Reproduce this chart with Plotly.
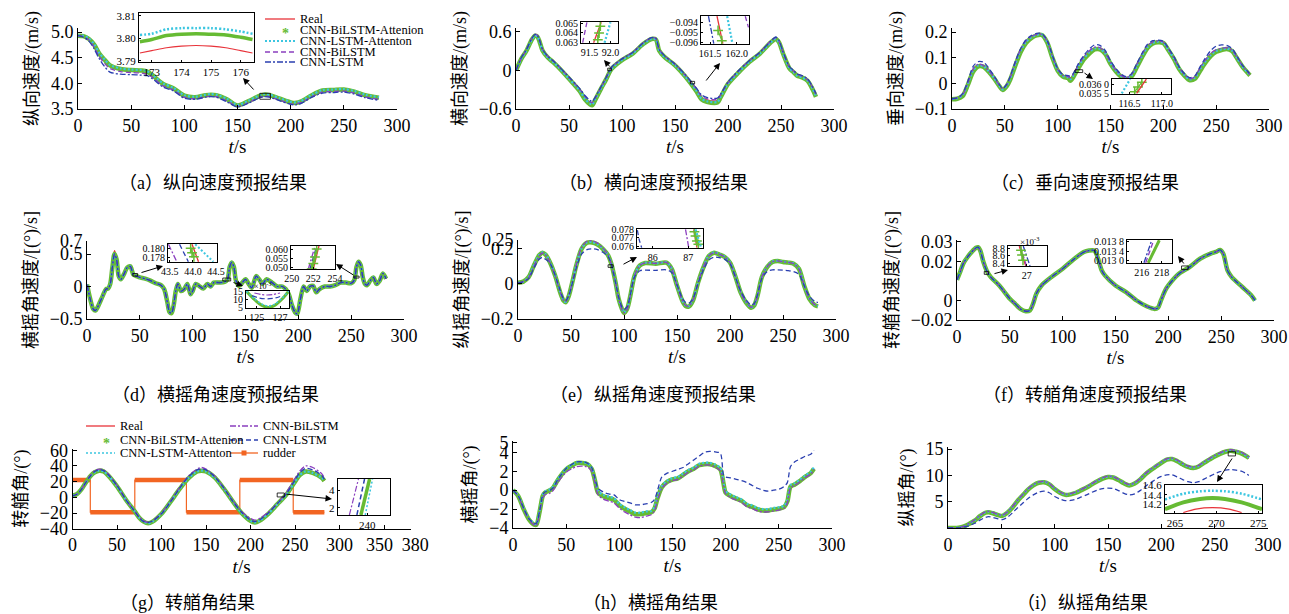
import plotly.graph_objects as go

# ======================= DATA =======================
# (a) longitudinal speed
t_a = [0,5,10,15,20,25,30,40,50,60,65,70,80,90,100,110,120,125,130,140,150,160,170,175,180,190,200,205,210,220,230,240,250,260,270,283]
real_a = [4.93,4.92,4.87,4.75,4.57,4.45,4.34,4.27,4.25,4.24,4.22,4.15,3.98,3.89,3.75,3.72,3.76,3.77,3.76,3.68,3.56,3.64,3.74,3.77,3.76,3.69,3.62,3.61,3.64,3.76,3.85,3.86,3.87,3.83,3.76,3.71]
bilstm_att_a = [4.93,4.92,4.87,4.76,4.58,4.46,4.35,4.28,4.26,4.25,4.23,4.16,3.99,3.90,3.76,3.73,3.77,3.78,3.77,3.69,3.57,3.65,3.75,3.78,3.77,3.70,3.63,3.62,3.65,3.77,3.86,3.87,3.88,3.84,3.77,3.72]
lstm_att_a = [4.93,4.93,4.88,4.77,4.59,4.47,4.36,4.29,4.27,4.26,4.24,4.17,4.00,3.91,3.77,3.74,3.78,3.79,3.78,3.70,3.58,3.66,3.76,3.79,3.78,3.71,3.64,3.63,3.66,3.78,3.87,3.88,3.89,3.85,3.78,3.73]
bilstm_a = [4.93,4.91,4.85,4.71,4.52,4.39,4.29,4.23,4.21,4.20,4.18,4.12,3.95,3.87,3.73,3.70,3.74,3.75,3.74,3.66,3.55,3.62,3.72,3.75,3.74,3.67,3.60,3.60,3.63,3.74,3.83,3.84,3.85,3.81,3.74,3.69]
lstm_a = [4.93,4.90,4.83,4.68,4.48,4.33,4.22,4.18,4.17,4.16,4.15,4.09,3.93,3.85,3.71,3.69,3.73,3.74,3.73,3.64,3.54,3.61,3.71,3.74,3.73,3.66,3.59,3.58,3.61,3.73,3.81,3.82,3.83,3.79,3.72,3.67]

# (b) lateral speed
t_b = [0,5,10,15,18,20,22,25,30,35,40,50,60,65,70,72,75,80,85,90,100,110,120,128,132,135,140,150,160,170,175,180,190,193,200,210,220,230,240,245,248,252,258,262,265,270,275,280,283]
real_b = [0,0.19,0.32,0.49,0.55,0.54,0.47,0.32,0.21,0.14,0.06,-0.12,-0.30,-0.42,-0.51,-0.52,-0.43,-0.28,-0.13,0.03,0.17,0.27,0.42,0.50,0.49,0.32,0.22,0.09,-0.09,-0.30,-0.42,-0.46,-0.47,-0.40,-0.20,-0.02,0.14,0.27,0.44,0.50,0.45,0.27,0.04,-0.02,-0.07,-0.10,-0.15,-0.28,-0.38]
bilstm_att_b = [0,0.18,0.31,0.48,0.54,0.53,0.46,0.31,0.2,0.13,0.05,-0.13,-0.32,-0.45,-0.53,-0.54,-0.45,-0.29,-0.14,0.02,0.16,0.26,0.41,0.49,0.48,0.31,0.21,0.08,-0.1,-0.32,-0.45,-0.49,-0.5,-0.42,-0.21,-0.03,0.13,0.26,0.43,0.49,0.44,0.26,0.03,-0.03,-0.08,-0.11,-0.16,-0.3,-0.41]
lstm_att_b = [0,0.18,0.31,0.48,0.54,0.53,0.46,0.31,0.2,0.13,0.05,-0.13,-0.31,-0.44,-0.52,-0.53,-0.44,-0.29,-0.14,0.02,0.16,0.26,0.41,0.49,0.48,0.31,0.21,0.08,-0.1,-0.31,-0.44,-0.48,-0.49,-0.41,-0.21,-0.03,0.13,0.26,0.43,0.49,0.44,0.26,0.03,-0.03,-0.08,-0.11,-0.16,-0.29,-0.4]
bilstm_b = [0,0.19,0.33,0.5,0.56,0.55,0.48,0.33,0.22,0.15,0.07,-0.11,-0.29,-0.4,-0.49,-0.5,-0.42,-0.27,-0.12,0.04,0.18,0.28,0.43,0.51,0.5,0.33,0.23,0.1,-0.08,-0.28,-0.4,-0.44,-0.45,-0.38,-0.19,-0.01,0.15,0.28,0.45,0.51,0.46,0.28,0.05,-0.01,-0.06,-0.09,-0.14,-0.27,-0.37]
lstm_b = [0,0.2,0.33,0.5,0.56,0.55,0.48,0.33,0.22,0.15,0.07,-0.1,-0.28,-0.39,-0.47,-0.48,-0.41,-0.26,-0.11,0.05,0.18,0.28,0.43,0.51,0.5,0.33,0.23,0.1,-0.07,-0.27,-0.38,-0.42,-0.43,-0.37,-0.18,0.0,0.15,0.28,0.45,0.52,0.47,0.29,0.06,0.0,-0.05,-0.08,-0.13,-0.26,-0.36]

# (c) vertical speed
t_c = [0,5,10,15,20,25,30,35,40,45,48,52,55,60,65,70,75,80,85,90,95,100,105,110,112,115,120,125,130,135,140,145,150,155,160,165,170,175,180,185,190,195,200,205,210,215,220,225,230,235,240,245,250,255,260,265,270,275,280,282]
real_c = [-0.061,-0.058,-0.045,0.0,0.053,0.072,0.066,0.046,0.02,-0.01,-0.023,-0.006,0.02,0.079,0.13,0.163,0.18,0.19,0.19,0.163,0.105,0.053,0.029,0.024,0.018,0.033,0.072,0.102,0.124,0.138,0.136,0.118,0.079,0.05,0.029,0.02,0.033,0.072,0.111,0.144,0.159,0.163,0.159,0.13,0.098,0.059,0.033,0.016,0.024,0.059,0.089,0.114,0.128,0.133,0.137,0.128,0.098,0.066,0.042,0.033]
bilstm_att_c = [-0.062,-0.06,-0.05,-0.006,0.045,0.066,0.064,0.044,0.018,-0.012,-0.026,-0.01,0.014,0.07,0.122,0.157,0.176,0.187,0.188,0.16,0.1,0.05,0.026,0.02,0.01,0.026,0.062,0.094,0.116,0.132,0.132,0.115,0.076,0.047,0.026,0.016,0.027,0.064,0.103,0.137,0.155,0.16,0.157,0.128,0.095,0.056,0.03,0.012,0.018,0.05,0.081,0.107,0.123,0.13,0.134,0.126,0.096,0.064,0.04,0.031]
lstm_att_c = [-0.061,-0.058,-0.046,-0.002,0.05,0.07,0.066,0.046,0.02,-0.01,-0.024,-0.007,0.018,0.076,0.128,0.161,0.179,0.189,0.19,0.162,0.104,0.052,0.028,0.023,0.016,0.031,0.069,0.099,0.121,0.136,0.135,0.117,0.078,0.049,0.028,0.019,0.031,0.069,0.108,0.141,0.157,0.162,0.158,0.129,0.097,0.058,0.032,0.015,0.022,0.056,0.086,0.111,0.126,0.132,0.136,0.127,0.097,0.065,0.041,0.032]
bilstm_c = [-0.06,-0.057,-0.044,0.002,0.056,0.075,0.069,0.048,0.022,-0.008,-0.021,-0.004,0.022,0.082,0.133,0.166,0.182,0.191,0.191,0.165,0.107,0.055,0.031,0.026,0.021,0.036,0.075,0.105,0.127,0.141,0.139,0.12,0.081,0.052,0.031,0.022,0.035,0.075,0.114,0.147,0.161,0.165,0.161,0.132,0.1,0.061,0.035,0.018,0.026,0.062,0.092,0.117,0.131,0.136,0.139,0.13,0.1,0.068,0.044,0.034]
lstm_c = [-0.06,-0.056,-0.04,0.008,0.066,0.085,0.082,0.058,0.028,-0.006,-0.02,-0.002,0.026,0.086,0.136,0.17,0.186,0.195,0.194,0.168,0.11,0.058,0.034,0.03,0.028,0.04,0.08,0.11,0.134,0.15,0.148,0.128,0.088,0.058,0.036,0.026,0.038,0.078,0.118,0.152,0.166,0.168,0.164,0.136,0.104,0.064,0.038,0.022,0.03,0.066,0.1,0.128,0.145,0.15,0.148,0.136,0.104,0.07,0.046,0.035]

# (d) roll rate
t_d = [0,3,6,8,10,15,18,20,22,24,26,28,30,32,35,38,41,44,47,50,55,60,65,70,73,76,78,80,82,84,86,89,92,95,98,100,103,106,110,114,117,120,125,130,133,135,137,139,141,144,147,150,153,156,160,163,166,170,175,180,185,188,191,194,197,199,202,205,208,211,214,217,220,225,230,235,240,245,250,253,255,257,259,261,263,265,268,271,274,277,280,283]
real_d = [0.03,-0.19,-0.35,-0.37,-0.32,-0.14,-0.04,-0.03,0.04,0.31,0.55,0.44,0.16,0.11,0.19,0.29,0.31,0.18,0.16,0.14,0.12,0.09,0.05,0.02,-0.04,-0.24,-0.40,-0.42,-0.29,-0.07,0.04,-0.07,-0.04,0.04,-0.12,-0.07,0.04,0.01,-0.03,0.04,0.0,0.06,0.06,0.07,0.11,0.31,0.38,0.31,0.09,0.01,0.06,0.11,0.04,-0.02,0.16,0.11,0.04,0.11,0.06,0.0,0.0,-0.04,-0.12,-0.29,-0.40,-0.42,-0.19,0.0,-0.07,0.0,0.01,-0.09,-0.04,0.0,0.0,0.02,0.06,0.06,0.05,0.10,0.31,0.39,0.34,0.14,0.04,0.02,0.09,0.14,0.04,0.09,0.21,0.12]
model_d = [0.03,-0.19,-0.35,-0.37,-0.32,-0.14,-0.04,-0.03,0.04,0.29,0.5,0.42,0.16,0.11,0.19,0.29,0.31,0.18,0.16,0.14,0.12,0.09,0.05,0.02,-0.04,-0.24,-0.39,-0.41,-0.29,-0.07,0.04,-0.07,-0.04,0.04,-0.12,-0.07,0.04,0.01,-0.03,0.04,0.0,0.06,0.06,0.07,0.11,0.3,0.37,0.3,0.09,0.01,0.06,0.11,0.04,-0.02,0.16,0.11,0.04,0.11,0.06,0.0,0.0,-0.04,-0.12,-0.29,-0.4,-0.42,-0.19,0.0,-0.07,0.0,0.01,-0.09,-0.04,0.0,0.0,0.02,0.06,0.06,0.05,0.1,0.3,0.38,0.33,0.14,0.04,0.02,0.09,0.14,0.04,0.09,0.2,0.12]

# (e) pitch rate
t_e = [0,5,10,15,20,23,26,30,35,40,43,45,48,52,55,60,65,70,75,80,85,88,92,95,98,100,103,106,110,115,120,130,140,145,150,155,158,161,165,170,175,180,185,190,195,200,205,210,215,220,223,226,230,235,240,245,250,255,260,265,270,275,280,283]
real_e = [0.006,0.013,0.038,0.105,0.163,0.178,0.167,0.125,0.048,-0.052,-0.096,-0.105,-0.067,0.029,0.105,0.2,0.234,0.236,0.224,0.2,0.163,0.115,0.01,-0.086,-0.15,-0.175,-0.15,-0.067,0.048,0.105,0.119,0.115,0.121,0.086,-0.01,-0.096,-0.125,-0.13,-0.096,0.01,0.096,0.159,0.178,0.167,0.153,0.121,0.044,-0.048,-0.105,-0.138,-0.121,-0.067,0.038,0.096,0.125,0.13,0.125,0.121,0.115,0.086,-0.01,-0.086,-0.121,-0.128]
bilstm_att_e = [0.006,0.013,0.038,0.105,0.163,0.178,0.167,0.125,0.048,-0.052,-0.096,-0.105,-0.067,0.029,0.105,0.2,0.234,0.236,0.224,0.2,0.163,0.115,0.01,-0.086,-0.142,-0.165,-0.142,-0.067,0.048,0.105,0.119,0.115,0.121,0.086,-0.01,-0.096,-0.125,-0.13,-0.096,0.01,0.096,0.159,0.178,0.167,0.153,0.121,0.044,-0.048,-0.105,-0.136,-0.121,-0.067,0.038,0.096,0.125,0.13,0.125,0.121,0.115,0.086,-0.01,-0.086,-0.121,-0.128]
lstm_att_e = [0.006,0.013,0.04,0.107,0.165,0.18,0.169,0.127,0.05,-0.05,-0.094,-0.103,-0.065,0.031,0.107,0.202,0.236,0.238,0.226,0.202,0.165,0.117,0.012,-0.084,-0.14,-0.163,-0.14,-0.065,0.05,0.107,0.121,0.117,0.123,0.088,-0.008,-0.094,-0.123,-0.128,-0.094,0.012,0.098,0.161,0.18,0.169,0.155,0.123,0.046,-0.046,-0.103,-0.134,-0.119,-0.065,0.04,0.098,0.127,0.132,0.127,0.123,0.117,0.088,-0.008,-0.084,-0.119,-0.126]
bilstm_e = [0.006,0.013,0.036,0.1,0.16,0.176,0.166,0.124,0.046,-0.05,-0.094,-0.102,-0.066,0.03,0.108,0.208,0.243,0.245,0.232,0.205,0.165,0.113,0.008,-0.084,-0.145,-0.165,-0.145,-0.065,0.048,0.106,0.12,0.117,0.122,0.087,-0.01,-0.094,-0.122,-0.127,-0.094,0.01,0.097,0.16,0.178,0.168,0.154,0.121,0.043,-0.047,-0.102,-0.133,-0.118,-0.066,0.038,0.097,0.126,0.131,0.126,0.122,0.116,0.086,-0.01,-0.085,-0.118,-0.125]
lstm_e = [0.006,0.012,0.03,0.09,0.14,0.152,0.14,0.12,0.05,-0.04,-0.085,-0.095,-0.065,0.02,0.09,0.17,0.195,0.2,0.195,0.18,0.155,0.11,0.01,-0.075,-0.13,-0.145,-0.13,-0.06,0.04,0.075,0.078,0.077,0.08,0.065,-0.005,-0.08,-0.105,-0.11,-0.085,0.005,0.08,0.135,0.152,0.15,0.14,0.115,0.04,-0.04,-0.09,-0.12,-0.11,-0.06,0.03,0.07,0.08,0.08,0.078,0.075,0.07,0.055,-0.01,-0.07,-0.1,-0.105]

# (f) yaw rate
t_f = [0,3,6,10,14,18,20,22,25,28,32,40,50,55,60,65,69,72,75,80,90,100,110,120,125,130,133,137,140,150,160,170,180,187,190,193,197,200,210,220,230,240,245,249,252,256,260,270,278,282]
real_f = [0.0106,0.0146,0.019,0.0223,0.0249,0.0271,0.0274,0.0257,0.0197,0.0154,0.012,0.0077,0.0009,-0.0017,-0.0043,-0.0055,-0.0051,-0.0017,0.0034,0.0077,0.0123,0.0163,0.0209,0.0249,0.0257,0.0257,0.0223,0.0154,0.0129,0.0077,0.0043,0.0,-0.0031,-0.0043,-0.0038,0.0,0.0051,0.0077,0.0137,0.0171,0.0214,0.024,0.0249,0.026,0.024,0.0154,0.012,0.0069,0.0029,0.0]
model_f = [0.0106,0.0146,0.019,0.0223,0.0249,0.027,0.0273,0.0256,0.0197,0.0154,0.012,0.0077,0.0009,-0.0017,-0.0043,-0.0055,-0.0051,-0.0017,0.0034,0.0077,0.0123,0.0163,0.0209,0.0248,0.0256,0.0256,0.0223,0.0154,0.0129,0.0077,0.0043,0.0,-0.0031,-0.0043,-0.0038,0.0,0.0051,0.0077,0.0137,0.0171,0.0214,0.024,0.0249,0.0259,0.024,0.0154,0.012,0.0069,0.0029,0.0]

# (g) heading angle + rudder
t_g = [0,5,10,15,20,25,30,35,40,50,60,70,75,80,85,90,100,110,120,130,140,145,150,160,170,180,190,200,205,210,220,230,240,250,255,262,270,280,283]
real_g = [2,4,10,19,27,32,34,33,28,14,-3,-18,-26,-31,-33,-31,-21,-6,10,24,33,34,33,25,11,-5,-20,-30,-32,-30,-21,-9,3,20,28,33,31,25,21]
bilstm_g = [2,4,10,19,28,34,36,35,30,15,-3,-18,-25,-30,-32,-30,-20,-5,12,27,36,38,36,27,12,-4,-18,-27,-29,-27,-19,-8,6,24,33,40,38,30,25]
lstm_g = [2,4,10,19,27,33,35,34,29,15,-3,-18,-26,-31,-32,-30,-21,-6,11,26,35,36,35,26,12,-5,-19,-29,-31,-29,-20,-8,4,22,31,37,35,28,23]
rudder_t = [0,20,20,70,70,128,128,188,188,248,248,283]
rudder_v = [22,22,-19,-19,22,22,-19,-19,22,22,-19,-19]

# (h) roll angle
t_h = [0,5,10,15,20,22,25,28,30,35,38,42,50,55,60,65,70,74,77,80,85,90,95,100,105,110,115,120,125,130,133,136,140,145,150,155,160,165,170,175,180,185,190,195,198,200,205,210,215,220,225,230,235,240,245,250,255,258,261,265,270,275,280,283]
real_h = [0,-0.64,-2.0,-3.1,-3.66,-3.66,-2.3,-0.6,-0.26,0,0.3,1.06,2.2,2.57,2.87,2.87,2.75,2.26,1.06,-0.26,-0.64,-0.83,-1.02,-1.58,-1.96,-2.26,-2.53,-2.53,-2.41,-2.34,-1.96,-0.83,0.3,0.87,1.13,1.25,1.62,2.0,2.26,2.64,2.75,2.75,2.57,2.19,0.68,-0.26,-0.64,-0.9,-1.13,-1.58,-1.77,-2.04,-2.15,-2.15,-2.04,-1.96,-1.77,-1.2,0.38,0.6,0.98,1.43,1.81,2.26]
lstm_att_h = [0,-0.6,-1.9,-3.0,-3.55,-3.55,-2.2,-0.5,-0.15,0.1,0.4,1.15,2.3,2.65,2.95,2.95,2.85,2.35,1.15,-0.1,-0.5,-0.68,-0.87,-1.43,-1.8,-2.1,-2.37,-2.37,-2.25,-2.2,-1.8,-0.68,0.45,1.0,1.28,1.4,1.77,2.15,2.4,2.8,2.9,2.9,2.72,2.34,0.83,-0.1,-0.48,-0.75,-0.98,-1.43,-1.62,-1.88,-2.0,-2.0,-1.88,-1.8,-1.62,-1.05,0.53,0.75,1.13,1.58,1.96,2.4]
bilstm_h = [0,-0.64,-2.0,-3.1,-3.7,-3.75,-2.4,-0.8,-0.5,-0.3,0.0,0.8,1.9,2.25,2.5,2.55,2.45,2.0,0.8,-0.5,-0.95,-1.15,-1.35,-1.9,-2.3,-2.6,-2.85,-2.9,-2.75,-2.6,-2.2,-1.0,0.2,0.75,1.0,1.15,1.5,1.9,2.15,2.55,2.65,2.65,2.45,2.05,0.5,-0.4,-0.8,-1.05,-1.3,-1.75,-1.95,-2.2,-2.3,-2.3,-2.2,-2.1,-1.9,-1.35,0.25,0.5,0.9,1.35,1.7,2.2]
lstm_h = [0,-0.6,-1.9,-3.0,-3.5,-3.5,-2.2,-0.5,-0.2,0,0.3,1.1,2.3,2.7,3.0,3.0,2.85,2.4,1.3,0.2,-0.2,-0.4,-0.5,-1.0,-1.2,-1.35,-1.55,-1.55,-1.45,-1.3,-1.0,0.0,1.4,1.8,2.0,2.2,2.4,2.8,3.2,3.6,4.0,4.1,4.05,3.9,1.6,1.4,1.3,1.15,1.0,0.8,0.5,0.2,0.0,-0.1,0.0,0.1,0.4,0.8,2.5,3.0,3.3,3.6,3.8,4.2]

# (i) pitch angle
t_i = [0,5,10,15,20,25,30,35,38,42,47,51,55,60,65,70,75,80,85,90,95,100,105,110,115,120,125,130,135,140,145,150,155,160,165,170,175,180,185,190,195,200,205,210,215,220,225,230,235,240,245,250,255,260,265,270,275,280,282]
real_i = [0,0,0.05,0.25,0.7,1.3,2.15,2.8,2.9,2.7,2.35,2.2,2.7,3.7,5.0,6.1,7.2,8.0,8.5,8.6,8.2,7.3,6.6,6.2,6.3,6.6,7.1,7.6,8.2,8.8,9.3,9.6,9.5,9.0,8.4,8.0,8.35,9.1,10.1,10.9,11.6,12.3,12.9,13.0,12.6,12.0,11.5,11.3,11.6,12.3,12.9,13.5,14.0,14.4,14.6,14.4,14.1,13.5,13.2]
bilstm_att_i = [0,0,0.05,0.3,0.8,1.4,2.25,2.9,3.0,2.8,2.45,2.3,2.8,3.8,5.1,6.2,7.3,8.1,8.6,8.7,8.3,7.4,6.7,6.3,6.4,6.7,7.2,7.7,8.3,8.9,9.4,9.7,9.6,9.1,8.5,8.1,8.45,9.2,10.2,11.0,11.7,12.4,13.0,13.1,12.7,12.1,11.6,11.4,11.7,12.4,13.0,13.6,14.1,14.5,14.7,14.5,14.2,13.6,13.3]
lstm_att_i = [0,0,0.06,0.32,0.85,1.5,2.35,3.0,3.1,2.9,2.55,2.4,2.9,3.9,5.2,6.3,7.4,8.2,8.7,8.8,8.4,7.5,6.8,6.4,6.5,6.8,7.3,7.8,8.4,9.0,9.5,9.8,9.7,9.2,8.6,8.2,8.55,9.3,10.3,11.1,11.8,12.5,13.1,13.2,12.8,12.2,11.7,11.5,11.8,12.5,13.1,13.7,14.2,14.6,14.8,14.6,14.3,13.7,13.4]
bilstm_i = [0,0,0.06,0.35,0.9,1.55,2.4,3.05,3.15,2.95,2.6,2.45,2.95,3.95,5.25,6.35,7.45,8.25,8.75,8.85,8.45,7.55,6.85,6.45,6.55,6.85,7.35,7.85,8.45,9.05,9.55,9.85,9.75,9.25,8.65,8.25,8.6,9.35,10.35,11.15,11.85,12.55,13.15,13.3,12.9,12.3,11.8,11.6,11.9,12.6,13.2,13.8,14.3,14.7,14.9,14.7,14.4,13.8,13.5]
lstm_i = [0,0,0.02,0.15,0.45,0.9,1.5,2.0,2.15,2.0,1.75,1.6,1.95,2.8,3.8,4.7,5.6,6.3,6.8,7.0,6.7,6.0,5.5,5.2,5.25,5.5,5.9,6.3,6.8,7.2,7.5,7.6,7.5,7.1,6.6,6.3,6.5,7.1,7.9,8.6,9.3,9.8,10.1,10.1,9.7,9.2,8.8,8.6,8.8,9.3,9.8,10.3,10.7,11.0,11.1,11.0,10.8,10.3,10.0]

# ---- zoomed-in inset data ----
a_in_t = [172.6,173,173.5,174,174.5,175,175.5,176,176.4]
a_in_real = [3.7935,3.7945,3.7958,3.7965,3.7968,3.7965,3.7958,3.7945,3.7935]
a_in_bilstm_att = [3.7985,3.7995,3.8012,3.8018,3.802,3.8018,3.8015,3.8005,3.7995]
a_in_lstm_att = [3.8015,3.802,3.804,3.8045,3.8045,3.8045,3.804,3.803,3.802]

b_in1_bilstm = ([91.34,91.44],[0.0630,0.0651])
b_in1_real = ([91.60,91.78],[0.0630,0.0651])
b_in1_bilstm_att = ([91.70,91.73,91.76],[0.0633,0.0640,0.0647])
b_in1_lstm_att = ([91.86,92.00],[0.0630,0.0651])

b_in2_lstm = ([161.47,161.57],[-0.0934,-0.0961])
b_in2_real = ([161.63,161.74],[-0.0934,-0.0961])
b_in2_bilstm_att = ([161.65,161.72],[-0.0948,-0.0958])
b_in2_lstm_att = ([161.82,161.92],[-0.0934,-0.0961])
b_in2_bilstm = ([162.16,162.22],[-0.0934,-0.0945])

c_in_lstm_att = ([116.38,116.51],[0.03552,0.03626])
c_in_bilstm_att = ([116.58,116.63,116.69],[0.03560,0.03585,0.03610])
c_in_real = ([116.61,116.76],[0.03552,0.03626])

d_in1_bilstm = ([43.47,43.65],[0.1809,0.1770])
d_in1_lstm = ([43.71,43.90],[0.1809,0.1770])
d_in1_bilstm_att = ([43.95,43.98,44.02],[0.1800,0.1790,0.1781])
d_in1_real = ([43.98,44.12],[0.1809,0.1770])
d_in1_lstm_att = ([44.05,44.44],[0.1809,0.1770])

d_in2_bilstm = ([251.54,252.16],[0.0489,0.0617])
d_in2_lstm = ([251.69,252.31],[0.0489,0.0617])
d_in2_bilstm_att = ([251.85,252.0,252.15,252.31],[0.0489,0.0520,0.0555,0.0600])
d_in2_real = ([252.0,252.52],[0.0489,0.0617])

d_in3_t = [124.1,124.8,125.5,126.0,126.5,127.2,127.75]
d_in3_bilstm_att = [15.5,10.0,6.0,4.9,6.0,10.5,15.5]
d_in3_lstm_att = [15.5,10.5,6.8,5.8,6.8,11.0,15.5]
d_in3_lstm = ([124.6,125.2,125.9,126.6,127.2],[12.5,11.0,10.4,11.0,12.5])
d_in3_bilstm = ([124.8,125.4,125.9,126.4,127.0],[14.2,13.2,12.9,13.2,14.2])

e_in_lstm = ([85.57,85.62,85.69],[0.0779,0.0768,0.0758])
e_in_bilstm = ([86.92,87.01],[0.0780,0.0758])
e_in_real = ([87.15,87.24],[0.0780,0.0758])
e_in_bilstm_att = ([87.17,87.2,87.24,87.28],[0.0777,0.0772,0.0766,0.0762])
e_in_lstm_att = ([87.2,87.35],[0.0780,0.0759])

f_in1_bilstm_att = ([26.77,26.81,26.85],[8.75,8.62,8.48])   # x10^-3
f_in1_real = ([26.70,26.96],[8.86,8.33])
f_in1_bilstm = ([26.74,26.99],[8.86,8.33])
f_in1_lstm = ([26.86,27.13],[8.86,8.33])

f_in2_lstm = ([216.23,217.0],[0.01291,0.01386])
f_in2_bilstm = ([216.4,217.2],[0.01291,0.01386])
f_in2_real = ([216.62,217.72],[0.01291,0.01386])
f_in2_bilstm_att = ([216.66,217.76],[0.01291,0.01386])

g_in_bilstm = ([238.97,239.49],[1.2,5.25])
g_in_lstm = ([239.40,239.84],[1.2,5.25])
g_in_real = ([239.63,240.13],[1.2,5.25])
g_in_bilstm_att = ([239.63,240.13],[1.2,5.25])
g_in_lstm_att = ([239.88,240.30],[1.2,5.25])

i_in_t = [263.8,266,268,269.5,271,273,275.45]
i_in_lstm_att = [14.30,14.42,14.47,14.48,14.47,14.42,14.30]
i_in_bilstm_att = [14.10,14.24,14.31,14.33,14.31,14.24,14.10]
i_in_real = ([266,267.5,269.5,271.5,273],[14.03,14.10,14.13,14.10,14.03])

# ======================= STYLE / LAYOUT =======================
W, H = 1289, 614
SERIF = '"Times New Roman", "Liberation Serif", "Noto Sans CJK SC", serif'
C_REAL, C_GREEN, C_CYAN = "#e8333a", "#66bb33", "#3cc6e0"
C_PURPLE, C_BLUE, C_RUD = "#8b3fbf", "#2a3fb0", "#f26522"
DASH, DASHDOT, DOT = "5px,3px", "6px,2px,2px,2px", "2px,2px"
TICK_FS = 18


def xp(x):
    return x / W


def yp(y):
    return 1 - y / H


fig = go.Figure()
lay = dict(template="none", width=W, height=H, autosize=False,
           margin=dict(l=0, r=0, t=0, b=0, pad=0),
           paper_bgcolor="white", plot_bgcolor="rgba(0,0,0,0)",
           showlegend=False, font=dict(family=SERIF, color="black"))
shapes, annos = [], []


def nm(n, k):
    return k if n == 1 else f"{k}{n}"


def axes(n, xpx, ypx, xr, yr, xt, yt, xtt=None, ytt=None, inset=False,
         ytitle=None, fs=TICK_FS):
    common = dict(showline=True, linecolor="black", linewidth=1, automargin=False,
                  ticks="inside", ticklen=2 if inset else 4, tickcolor="black",
                  showgrid=False, zeroline=False, mirror=inset, tickangle=0,
                  tickfont=dict(family=SERIF, size=fs, color="black"))
    xa = dict(domain=[xp(xpx[0]), xp(xpx[1])], range=xr, anchor=nm(n, "y"),
              tickvals=xt, **common)
    ya = dict(domain=[yp(ypx[1]), yp(ypx[0])], range=yr, anchor=nm(n, "x"),
              tickvals=yt, **common)
    if xtt is not None:
        xa["ticktext"] = xtt
    if ytt is not None:
        ya["ticktext"] = ytt
    if not inset:
        xa["title"] = dict(text="<i>t</i>/s", standoff=5,
                           font=dict(family=SERIF, size=19))
        ya["title"] = dict(text=ytitle, standoff=7,
                           font=dict(family=SERIF, size=18))
    else:
        # white background of the inset box, built from the inset ranges
        fig.add_trace(go.Scatter(x=[xr[0], xr[1], xr[1], xr[0], xr[0]],
                                 y=[yr[0], yr[0], yr[1], yr[1], yr[0]],
                                 xaxis=nm(n, "x"), yaxis=nm(n, "y"),
                                 fill="toself", fillcolor="white",
                                 line=dict(width=0), mode="lines",
                                 hoverinfo="skip"))
    lay[nm(n, "xaxis")] = xa
    lay[nm(n, "yaxis")] = ya


def line(n, x, y, color, width, dash="solid", shape="spline", mode="lines",
         marker=None):
    fig.add_trace(go.Scatter(x=x, y=y, xaxis=nm(n, "x"), yaxis=nm(n, "y"),
                             mode=mode, marker=marker,
                             line=dict(color=color, width=width, dash=dash,
                                       shape=shape, smoothing=0.8),
                             hoverinfo="skip"))


def five(n, t, real, g, c, p, b, pdash=DASHDOT, bdash=DASH, gw=4.5):
    line(n, t, real, C_REAL, 1.3)
    line(n, t, g, C_GREEN, gw)
    line(n, t, c, C_CYAN, 2.2, DOT)
    line(n, t, p, C_PURPLE, 1.3, pdash)
    line(n, t, b, C_BLUE, 1.3, bdash)


CROSS = dict(symbol="cross-thin", size=7, line=dict(color=C_GREEN, width=1.5))


def seg(n, xy, color, width, dash="solid", mode="lines", marker=None):
    line(n, xy[0], xy[1], color, width, dash, shape="linear", mode=mode,
         marker=marker)


T300 = [0, 50, 100, 150, 200, 250, 300]

# ---- main panels ----
axes(1, (78, 397), (28, 109), [0, 300], [3.5, 5.08], T300, [3.5, 4.0, 4.5, 5.0],
     ytt=["3.5", "4.0", "4.5", "5.0"], ytitle="纵向速度/(m/s)")
five(1, t_a, real_a, bilstm_att_a, lstm_att_a, bilstm_a, lstm_a, pdash=DASH, bdash=DASHDOT)

axes(2, (516, 834), (28, 109), [0, 300], [-0.6, 0.66], T300, [-0.6, 0, 0.6],
     ytt=["−0.6", "0", "0.6"], ytitle="横向速度/(m/s)")
five(2, t_b, real_b, bilstm_att_b, lstm_att_b, bilstm_b, lstm_b, pdash=DASH, bdash=DASHDOT)

axes(3, (952, 1269), (28, 109), [0, 300], [-0.1, 0.2156], T300, [-0.1, 0, 0.1, 0.2],
     ytt=["−0.1", "0", "0.1", "0.2"], ytitle="垂向速度/(m/s)")
five(3, t_c, real_c, bilstm_att_c, lstm_att_c, bilstm_c, lstm_c)

axes(4, (87, 404), (241, 319), [0, 300], [-0.5, 0.7], T300, [-0.5, 0, 0.5, 0.7],
     ytt=["−0.5", "0", "0.5", "0.7"], ytitle="横摇角速度/[(°)/s]")
five(4, t_d, real_d, model_d, model_d, model_d, model_d, pdash=DASHDOT, bdash=DASHDOT)

axes(5, (518, 836), (240, 319), [0, 300], [-0.2, 0.25], T300, [-0.2, 0, 0.2, 0.25],
     ytt=["−0.2", "0", "0.2", "0.25"], ytitle="纵摇角速度/[(°)/s]")
five(5, t_e, real_e, bilstm_att_e, lstm_att_e, bilstm_e, lstm_e)

axes(6, (957, 1274), (240, 320), [0, 300], [-0.01, 0.031], T300, [-0.01, 0, 0.02, 0.03],
     ytt=["−0.02", "0", "0.02", "0.03"], ytitle="转艏角速度/[(°)/s]")
five(6, t_f, real_f, model_f, model_f, model_f, model_f, pdash=DASH, bdash=DASHDOT)

axes(7, (72.5, 410.7), (448.7, 528.7), [0, 380], [-40, 62],
     [0, 50, 100, 150, 200, 250, 300, 350, 380], [-40, -20, 0, 20, 40, 60],
     xtt=["0", "50", "100", "150", "200", "250", "300", "350\u2002", "\u2002380"],
     ytt=["−40", "−20", "0", "20", "40", "60"], ytitle="转艏角/(°)")
line(7, rudder_t, rudder_v, C_RUD, 1.2, shape="linear")
rud_x, rud_y = [], []
for k in range(0, len(rudder_t), 2):
    rud_x += [rudder_t[k], rudder_t[k + 1], None]
    rud_y += [rudder_v[k], rudder_v[k + 1], None]
line(7, rud_x, rud_y, C_RUD, 4.5, shape="linear")
five(7, t_g, real_g, real_g, real_g, bilstm_g, lstm_g)

axes(8, (513, 832), (441, 528), [0, 300], [-4, 5.2], T300, [-4, -2, 0, 2, 4, 5],
     ytt=["−4", "−2", "0", "2", "4", "5"], ytitle="横摇角/(°)")
five(8, t_h, real_h, real_h, lstm_att_h, bilstm_h, lstm_h)

axes(9, (948, 1268), (447, 528), [0, 300], [0, 15.4], T300, [5, 10, 15],
     ytitle="纵摇角/(°)")
five(9, t_i, real_i, bilstm_att_i, lstm_att_i, bilstm_i, lstm_i)

# ---- insets ----
axes(10, (139, 254), (13, 62), [172.57, 176.45], [3.7895, 3.8112], [173, 174, 175, 176],
     [3.79, 3.80, 3.81], ytt=["3.79", "3.80", "3.81"], inset=True, fs=11)
line(10, a_in_t, a_in_real, C_REAL, 1.2)
line(10, a_in_t, a_in_bilstm_att, C_GREEN, 3.5)
line(10, a_in_t, a_in_lstm_att, C_CYAN, 2.5, DOT)

axes(11, (581, 618), (22, 43), [91.3, 92.18], [0.06297, 0.06513], [91.5, 92.0],
     [0.063, 0.064, 0.065], xtt=["91.5", "92.0"], ytt=["0.063", "0.064", "0.065"],
     inset=True, fs=10)
seg(11, b_in1_bilstm, C_PURPLE, 1.3, DASH)
seg(11, b_in1_real, C_REAL, 1.3)
seg(11, b_in1_bilstm_att, C_GREEN, 1.2, mode="lines+markers", marker=CROSS)
seg(11, b_in1_lstm_att, C_CYAN, 2.2, DOT)

axes(12, (701, 749), (16, 44), [161.33, 162.23], [-0.09613, -0.09338], [161.5, 162.0],
     [-0.096, -0.095, -0.094], xtt=["161.5", "162.0"], ytt=["−0.096", "−0.095", "−0.094"],
     inset=True, fs=10)
seg(12, b_in2_lstm, C_BLUE, 1.3, DASHDOT)
seg(12, b_in2_real, C_REAL, 1.3)
seg(12, b_in2_bilstm_att, C_GREEN, 1.2, mode="lines+markers", marker=CROSS)
seg(12, b_in2_lstm_att, C_CYAN, 2.2, DOT)
seg(12, b_in2_bilstm, C_PURPLE, 1.3, DASH)

axes(13, (1112, 1171), (79, 94), [116.23, 117.14], [0.03549, 0.036265], [116.5, 117.0],
     [0.0355, 0.0360], xtt=["116.5", "117.0"], ytt=["0.035 5", "0.036 0"], inset=True, fs=10)
seg(13, c_in_lstm_att, C_CYAN, 2.2, DOT)
seg(13, c_in_bilstm_att, C_GREEN, 1.2, mode="lines+markers", marker=CROSS)
seg(13, c_in_real, C_REAL, 1.3)

axes(14, (168, 217), (244, 262), [43.46, 44.52], [0.17694, 0.18096], [43.5, 44.0, 44.5],
     [0.178, 0.180], xtt=["43.5", "44.0", "44.5"], ytt=["0.178", "0.180"], inset=True, fs=10)
seg(14, d_in1_bilstm, C_PURPLE, 1.3, DASHDOT)
seg(14, d_in1_lstm, C_BLUE, 1.3, DASH)
seg(14, d_in1_real, C_REAL, 1.3)
seg(14, d_in1_bilstm_att, C_GREEN, 1.2, mode="lines+markers", marker=CROSS)
seg(14, d_in1_lstm_att, C_CYAN, 2.0, DOT)

axes(15, (291, 335), (246, 269), [249.94, 254.0], [0.04889, 0.06167], [250, 252, 254],
     [0.050, 0.055, 0.060], ytt=["0.050", "0.055", "0.060"], inset=True, fs=10)
seg(15, d_in2_bilstm, C_PURPLE, 1.3, DASHDOT)
seg(15, d_in2_lstm, C_BLUE, 1.3, DASH)
seg(15, d_in2_real, C_REAL, 1.3)
seg(15, d_in2_bilstm_att, C_GREEN, 2.0, mode="lines+markers", marker=CROSS)

axes(16, (246, 289), (291, 308), [124.08, 127.77], [4.5, 15.5], [125, 127], [5, 10, 15],
     inset=True, fs=10)
line(16, d_in3_t, d_in3_bilstm_att, C_GREEN, 3.0)
line(16, d_in3_t, d_in3_lstm_att, C_CYAN, 1.5, DOT)
line(16, d_in3_lstm[0], d_in3_lstm[1], C_BLUE, 1.2, DASH)
line(16, d_in3_bilstm[0], d_in3_bilstm[1], C_PURPLE, 1.2, DASHDOT)

axes(17, (637, 703), (229, 248), [85.56, 87.41], [0.07576, 0.07804], [86, 87],
     [0.076, 0.077, 0.078], ytt=["0.076", "0.077", "0.078"], inset=True, fs=10)
line(17, e_in_lstm[0], e_in_lstm[1], C_BLUE, 1.3, DASH)
seg(17, e_in_bilstm, C_PURPLE, 1.3, DASHDOT)
seg(17, e_in_real, C_REAL, 1.3)
seg(17, e_in_bilstm_att, C_GREEN, 1.2, mode="lines+markers", marker=CROSS)
seg(17, e_in_lstm_att, C_CYAN, 2.2, DOT)

axes(18, (1008, 1047), (246, 266), [26.25, 27.81], [8.33, 8.86], [27], [8.4, 8.6, 8.8],
     ytt=["8.4", "8.6", "8.8"], inset=True, fs=10)
seg(18, f_in1_real, C_REAL, 1.3)
seg(18, f_in1_bilstm, C_PURPLE, 1.3, DASH)
seg(18, f_in1_lstm, C_BLUE, 1.3, DASHDOT)
seg(18, f_in1_bilstm_att, C_GREEN, 1.2, mode="lines+markers", marker=CROSS)

axes(19, (1127, 1172), (240, 263), [214.53, 219.03], [0.0129, 0.01387], [216, 218],
     [0.0130, 0.0134, 0.0138], ytt=["0.013 0", "0.013 4", "0.013 8"], inset=True, fs=10)
seg(19, f_in2_lstm, C_BLUE, 1.3, DASHDOT)
seg(19, f_in2_bilstm, C_PURPLE, 1.3, DASH)
seg(19, f_in2_real, C_REAL, 1.3)
seg(19, f_in2_bilstm_att, C_GREEN, 3.0)

axes(20, (337.7, 390), (479, 515), [238.3, 241.3], [1.2, 5.25], [240], [2, 4],
     inset=True, fs=11)
seg(20, g_in_bilstm, C_PURPLE, 1.2, DASHDOT)
seg(20, g_in_lstm, C_BLUE, 1.5, DASH)
seg(20, g_in_real, C_REAL, 1.2)
seg(20, g_in_bilstm_att, C_GREEN, 3.5)
seg(20, g_in_lstm_att, C_CYAN, 1.5, DOT)

axes(21, (1165, 1262), (485, 513), [263.8, 275.45], [14.02, 14.6], [265, 270, 275],
     [14.2, 14.4, 14.6], ytt=["14.2", "14.4", "14.6"], inset=True, fs=11)
line(21, i_in_t, i_in_lstm_att, C_CYAN, 2.5, DOT)
line(21, i_in_t, i_in_bilstm_att, C_GREEN, 4.0)
line(21, i_in_real[0], i_in_real[1], C_REAL, 1.2)

# ---- zoom boxes on main axes ----
zoom_boxes = [(1, 171, 181, 3.69, 3.806), (2, 86.5, 90, -0.005, 0.035),
              (2, 164.5, 168.5, -0.21, -0.17), (3, 116.5, 123.7, 0.042, 0.053),
              (4, 43.4, 47.9, 0.16, 0.2), (4, 128.5, 136, 0.085, 0.13),
              (4, 252.5, 257.5, 0.13, 0.16), (5, 85, 89.7, 0.094, 0.109),
              (6, 25.8, 29.9, 0.0134, 0.0149), (6, 212.5, 218.8, 0.0159, 0.0177),
              (7, 230, 238, 0.5, 5.5), (9, 262.7, 269.5, 13.7, 14.5)]
for n, x0, x1, y0, y1 in zoom_boxes:
    shapes.append(dict(type="rect", xref=nm(n, "x"), yref=nm(n, "y"), x0=x0, x1=x1,
                       y0=y0, y1=y1, line=dict(color="black", width=0.8)))

# ---- arrows (head, tail) in px ----
arrows = [((243, 78), (255, 91)), ((604, 60), (611, 68)), ((720, 63), (705, 82)),
          ((1093, 79), (1083, 72)), ((163, 266), (140, 273)), ((243, 286), (232, 282)),
          ((336, 264), (355, 276)), ((637, 257), (622, 265)), ((1008, 270), (993, 274)),
          ((1178, 256), (1185, 265)), ((332, 499), (285, 494)), ((1217, 482), (1233, 457))]
for (hx, hy), (tx, ty) in arrows:
    annos.append(dict(x=xp(hx), y=yp(hy), xref="paper", yref="paper", text="",
                      showarrow=True, ax=tx - hx, ay=ty - hy, arrowhead=2,
                      arrowsize=1.3, arrowwidth=1, arrowcolor="black"))

annos.append(dict(x=xp(1018), y=yp(241), xref="paper", yref="paper",
                  text="×10<sup>-3</sup>", showarrow=False, xanchor="left",
                  yanchor="middle", font=dict(family=SERIF, size=9)))
annos.append(dict(x=xp(252), y=yp(286), xref="paper", yref="paper",
                  text="×10<sup>-3</sup>", showarrow=False, xanchor="left",
                  yanchor="middle", font=dict(family=SERIF, size=8)))

# ---- captions ----
captions = [("（a）纵向速度预报结果", 213, 183), ("（b）横向速度预报结果", 653, 183),
            ("（c）垂向速度预报结果", 1085, 183), ("（d）横摇角速度预报结果", 215, 395),
            ("（e）纵摇角速度预报结果", 653, 395), ("（f）转艏角速度预报结果", 1085, 395),
            ("（g）转艏角结果", 187, 603), ("（h）横摇角结果", 650, 603),
            ("（i）纵摇角结果", 1082, 603)]
for txt, cx, cy in captions:
    annos.append(dict(x=xp(cx), y=yp(cy), xref="paper", yref="paper", text=txt,
                      showarrow=False, xanchor="center", yanchor="middle",
                      font=dict(family=SERIF, size=18)))

# ---- legends (drawn as text + sample strokes) ----
def leg_item(label, x0, x1, y, kind, color, dash="solid", width=1.3):
    if kind == "line":
        shapes.append(dict(type="line", xref="paper", yref="paper", x0=xp(x0), x1=xp(x1),
                           y0=yp(y), y1=yp(y), line=dict(color=color, width=width, dash=dash)))
    elif kind == "star":
        annos.append(dict(x=xp((x0 + x1) / 2), y=yp(y), xref="paper", yref="paper",
                          text="<b>*</b>", showarrow=False, yanchor="middle",
                          yshift=-3, font=dict(family=SERIF, size=14, color=color)))
    elif kind == "rudder":
        shapes.append(dict(type="line", xref="paper", yref="paper", x0=xp(x0), x1=xp(x1),
                           y0=yp(y), y1=yp(y), line=dict(color=color, width=1.3)))
        cx = (x0 + x1) / 2
        shapes.append(dict(type="rect", xref="paper", yref="paper", x0=xp(cx - 2.5),
                           x1=xp(cx + 2.5), y0=yp(y + 2.5), y1=yp(y - 2.5),
                           fillcolor=color, line=dict(width=0)))
    annos.append(dict(x=xp(x1 + 3), y=yp(y), xref="paper", yref="paper", text=label,
                      showarrow=False, xanchor="left", yanchor="middle",
                      font=dict(family=SERIF, size=12.5)))


leg_item("Real", 265, 295, 19, "line", C_REAL)
leg_item("CNN-BiLSTM-Attenion", 265, 295, 30, "star", C_GREEN)
leg_item("CNN-LSTM-Attenton", 265, 295, 41, "line", C_CYAN, DOT, 2.2)
leg_item("CNN-BiLSTM", 265, 295, 52, "line", C_PURPLE, DASH)
leg_item("CNN-LSTM", 265, 295, 62, "line", C_BLUE, DASHDOT)

leg_item("Real", 86, 115, 426, "line", C_REAL)
leg_item("CNN-BiLSTM-Attenion", 86, 115, 440, "star", C_GREEN)
leg_item("CNN-LSTM-Attenton", 86, 115, 453, "line", C_CYAN, DOT, 1.5)
leg_item("CNN-BiLSTM", 230, 258, 426, "line", C_PURPLE, DASHDOT)
leg_item("CNN-LSTM", 230, 258, 440, "line", C_BLUE, DASH, 1.6)
leg_item("rudder", 230, 258, 453, "rudder", C_RUD)

lay["shapes"] = shapes
lay["annotations"] = annos
fig.update_layout(**lay)
fig.write_html("out.html")
